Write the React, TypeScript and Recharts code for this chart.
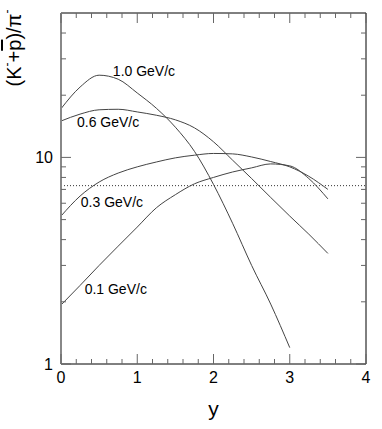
import React from "react";
import { LineChart, Line, XAxis, YAxis, ReferenceLine, ReferenceDot } from "recharts";

// rapidity grid shared by all curves
const rapidity = [0, 0.25, 0.5, 0.75, 1, 1.25, 1.5, 1.75, 2, 2.25, 2.5, 2.75, 3, 3.25, 3.5];

// (K- + pbar)/pi- ratio per pT bin
const ratio10 = [17.2, 21.9, 25.0, 23.9, 20.5, 17.3, 14.0, 10.7, 7.4, 4.8, 3.0, 1.95, 1.2];
const ratio06 = [15.0, 16.2, 17.0, 17.1, 16.6, 16.0, 15.2, 13.9, 11.9, 9.7, 7.9, 6.4, 5.2, 4.25, 3.43];
const ratio03 = [5.2, 6.5, 7.6, 8.4, 9.0, 9.5, 9.95, 10.25, 10.45, 10.4, 10.05, 9.55, 9.0, 8.1, 7.0];
const ratio01 = [1.93, 2.4, 3.0, 3.72, 4.6, 5.7, 6.6, 7.45, 8.0, 8.5, 8.9, 9.3, 9.1, 7.9, 6.3];
const plateau = 7.3;

const seriesNames = ["1.0 GeV/c", "0.6 GeV/c", "0.3 GeV/c", "0.1 GeV/c"];

const xTicks = [0, 0.2, 0.4, 0.6, 0.8, 1, 1.2, 1.4, 1.6, 1.8, 2, 2.2, 2.4, 2.6, 2.8, 3, 3.2, 3.4, 3.6, 3.8, 4];
const yTicks = [1, 2, 3, 4, 5, 6, 7, 8, 9, 10, 20, 30, 40];
const xLabelled = [0, 1, 2, 3, 4];
const yLabelled = [1, 10];

// where each curve's name sits (data coords)
const labelAnchors = [
  { x: 0.68, y: 26.3 },
  { x: 0.21, y: 14.8 },
  { x: 0.26, y: 6.06 },
  { x: 0.31, y: 2.3 },
];

const font = "'Liberation Sans', Arial, Helvetica, sans-serif";
const ink = "#444";
const tickInk = "#666";

const toSeries = (ys: number[]) => ys.map((v, i) => ({ x: rapidity[i], v }));

const BottomTick = ({ x, y, payload }: any) => {
  const major = xLabelled.includes(payload.value);
  return (
    <g>
      <path d={`M${x},${y}V${y - (major ? 10 : 5)}`} stroke={tickInk} fill="none" />
      {major && (
        <text x={x} y={y + 19} textAnchor="middle" fontSize={16} fontFamily={font} fill="#000">
          {payload.value}
        </text>
      )}
    </g>
  );
};

const TopTick = ({ x, y, payload }: any) => {
  const major = xLabelled.includes(payload.value);
  return <path d={`M${x},${y}V${y + (major ? 10 : 5)}`} stroke={tickInk} fill="none" />;
};

const LeftTick = ({ x, y, payload }: any) => {
  const major = yLabelled.includes(payload.value);
  return (
    <g>
      <path d={`M${x},${y}H${x + (major ? 10 : 5)}`} stroke={tickInk} fill="none" />
      {major && (
        <text x={x - 8} y={y + 6} textAnchor="end" fontSize={16} fontFamily={font} fill="#000">
          {payload.value}
        </text>
      )}
    </g>
  );
};

const RightTick = ({ x, y, payload }: any) => {
  const major = yLabelled.includes(payload.value);
  return <path d={`M${x},${y}H${x - (major ? 10 : 5)}`} stroke={tickInk} fill="none" />;
};

const YTitle = ({ viewBox }: any) => {
  const cx = viewBox.x + 14;
  const cy = viewBox.y + 35;
  return (
    <text
      x={cx}
      y={cy}
      transform={`rotate(-90 ${cx} ${cy})`}
      textAnchor="middle"
      dominantBaseline="central"
      fontSize={20}
      fontFamily={font}
      fill="#000"
    >
      <tspan>(K</tspan>
      <tspan dy={-7} fontSize={12}>-</tspan>
      <tspan dy={7}>+</tspan>
      <tspan style={{ textDecoration: "overline" }}>p</tspan>
      <tspan>)/π</tspan>
      <tspan dy={-7} fontSize={12}>-</tspan>
    </text>
  );
};

const XTitle = ({ viewBox }: any) => (
  <text
    x={viewBox.x + viewBox.width / 2}
    y={viewBox.y + 52}
    textAnchor="middle"
    fontSize={21}
    fontFamily={font}
    fill="#000"
  >
    y
  </text>
);

const curveLabel = (text: string) => ({ viewBox }: any) => (
  <text x={viewBox.x} y={viewBox.y + 5} fontSize={14} fontFamily={font} fill="#000">
    {text}
  </text>
);

const curves = [ratio10, ratio06, ratio03, ratio01];

export default function App() {
  return (
    <div style={{ position: "absolute", left: 0, top: 0, background: "#fff" }}>
      <LineChart width={382} height={429} margin={{ top: 12, right: 15, bottom: 0, left: 0 }}>
        <XAxis
          xAxisId="b"
          dataKey="x"
          type="number"
          domain={[0, 4]}
          ticks={xTicks}
          interval={0}
          tickSize={0}
          tickMargin={0}
          tickLine={false}
          tick={BottomTick}
          axisLine={{ stroke: "#000" }}
          height={65}
          allowDataOverflow
          label={{ content: <XTitle /> }}
        />
        <XAxis
          xAxisId="t"
          orientation="top"
          dataKey="x"
          type="number"
          domain={[0, 4]}
          ticks={xTicks}
          interval={0}
          tickSize={0}
          tickMargin={0}
          tickLine={false}
          tick={TopTick}
          axisLine={{ stroke: "#000" }}
          height={1}
          allowDataOverflow
        />
        <YAxis
          yAxisId="l"
          type="number"
          scale="log"
          domain={[1, 50]}
          ticks={yTicks}
          interval={0}
          tickSize={0}
          tickMargin={0}
          tickLine={false}
          tick={LeftTick}
          axisLine={{ stroke: "#888", strokeWidth: 2 }}
          width={61}
          allowDataOverflow
          label={{ content: <YTitle /> }}
        />
        <YAxis
          yAxisId="r"
          orientation="right"
          type="number"
          scale="log"
          domain={[1, 50]}
          ticks={yTicks}
          interval={0}
          tickSize={0}
          tickMargin={0}
          tickLine={false}
          tick={RightTick}
          axisLine={{ stroke: "#000" }}
          width={1}
          allowDataOverflow
        />
        <ReferenceLine xAxisId="b" yAxisId="l" y={plateau} stroke="#333" strokeDasharray="1 2" />
        {curves.map((ys, i) => (
          <Line
            key={seriesNames[i]}
            xAxisId="b"
            yAxisId="l"
            data={toSeries(ys)}
            dataKey="v"
            type="monotone"
            stroke={ink}
            strokeWidth={1}
            dot={false}
            activeDot={false}
            isAnimationActive={false}
          />
        ))}
        {labelAnchors.map((a, i) => (
          <ReferenceDot
            key={seriesNames[i]}
            xAxisId="b"
            yAxisId="l"
            x={a.x}
            y={a.y}
            r={0}
            fill="none"
            stroke="none"
            label={{ content: curveLabel(seriesNames[i]) }}
          />
        ))}
      </LineChart>
    </div>
  );
}
